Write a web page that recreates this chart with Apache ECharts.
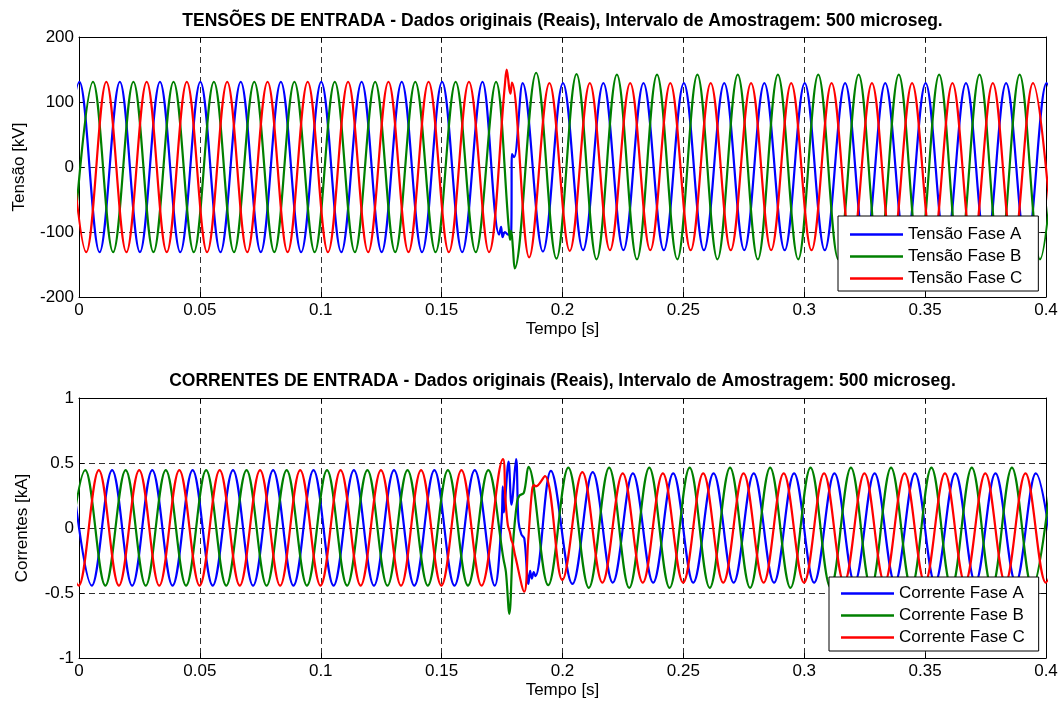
<!DOCTYPE html>
<html>
<head>
<meta charset="utf-8">
<title>Tensões e correntes de entrada</title>
<script src="https://cdn.jsdelivr.net/npm/echarts/dist/echarts.min.js"></script>
<style>
  html, body { margin: 0; padding: 0; background: #ffffff; }
  #chart { width: 1061px; height: 702px; }
</style>
</head>
<body>
<div id="chart"></div>
<script>
// Waveform turning points, [tempo (s), valor]; the curve between them comes from the line smoothing.
// Tensões em kV
const tensaoA = [[-0.0081,-131],[0.0002,131],[0.0085,-131],[0.0169,131],[0.0252,-131],[0.0335,131],[0.0419,-131],[0.0502,131],[0.0585,-131],[0.0669,131],[0.0752,-131],[0.0835,131],[0.0919,-131],[0.1002,131],[0.1085,-131],[0.1169,131],[0.1252,-131],[0.1335,131],[0.1419,-131],[0.1502,131],[0.1585,-131],[0.1669,131],[0.1738,-104],[0.1746,-92],[0.1752,-108],[0.1762,-100],[0.1775,-104],[0.1788,-100],[0.1791,20],[0.1800,15],[0.1835,129],[0.1919,-130],[0.2002,129],[0.2085,-128],[0.2169,129],[0.2252,-128],[0.2335,129],[0.2419,-128],[0.2502,129],[0.2585,-128],[0.2669,129],[0.2752,-128],[0.2835,129],[0.2919,-128],[0.3002,129],[0.3085,-128],[0.3169,129],[0.3252,-128],[0.3335,129],[0.3419,-128],[0.3502,129],[0.3585,-128],[0.3669,129],[0.3752,-128],[0.3835,129],[0.3919,-128],[0.4002,129],[0.4085,-128]];
const tensaoB = [[-0.0025,-131],[0.0058,131],[0.0141,-131],[0.0225,131],[0.0308,-131],[0.0391,131],[0.0475,-131],[0.0558,131],[0.0641,-131],[0.0725,131],[0.0808,-131],[0.0891,131],[0.0975,-131],[0.1058,131],[0.1141,-131],[0.1225,131],[0.1308,-131],[0.1391,131],[0.1475,-131],[0.1558,131],[0.1641,-131],[0.1725,131],[0.1778,-95],[0.1783,-112],[0.1788,-98],[0.1795,-125],[0.1802,-156],[0.1891,145],[0.1975,-141],[0.2058,143],[0.2141,-142],[0.2225,142],[0.2308,-142],[0.2391,142],[0.2475,-142],[0.2558,142],[0.2641,-142],[0.2725,142],[0.2808,-142],[0.2891,142],[0.2975,-142],[0.3058,142],[0.3141,-142],[0.3225,142],[0.3308,-142],[0.3391,142],[0.3475,-142],[0.3558,142],[0.3641,-142],[0.3725,142],[0.3808,-142],[0.3891,142],[0.3975,-142],[0.4058,142]];
const tensaoC = [[-0.0054,131],[0.0030,-131],[0.0113,131],[0.0196,-131],[0.0280,131],[0.0363,-131],[0.0446,131],[0.0530,-131],[0.0613,131],[0.0696,-131],[0.0780,131],[0.0863,-131],[0.0946,131],[0.1030,-131],[0.1113,131],[0.1196,-131],[0.1280,131],[0.1363,-131],[0.1446,131],[0.1530,-131],[0.1613,131],[0.1696,-131],[0.1762,128],[0.1769,150],[0.1775,136],[0.1780,120],[0.1785,113],[0.1791,130],[0.1862,-139],[0.1946,129],[0.2030,-129],[0.2113,129],[0.2196,-128],[0.2280,129],[0.2363,-128],[0.2446,129],[0.2530,-128],[0.2613,129],[0.2696,-128],[0.2780,129],[0.2863,-128],[0.2946,129],[0.3030,-128],[0.3113,129],[0.3196,-128],[0.3280,129],[0.3363,-128],[0.3446,129],[0.3530,-128],[0.3613,129],[0.3696,-128],[0.3780,129],[0.3863,-128],[0.3946,129],[0.4030,-128]];

// Correntes em kA
const correnteA = [[-0.0030,0.445],[0.0053,-0.443],[0.0137,0.445],[0.0220,-0.443],[0.0303,0.445],[0.0387,-0.443],[0.0470,0.445],[0.0553,-0.443],[0.0637,0.445],[0.0720,-0.443],[0.0803,0.445],[0.0887,-0.443],[0.0970,0.445],[0.1053,-0.443],[0.1137,0.445],[0.1220,-0.443],[0.1303,0.445],[0.1387,-0.443],[0.1470,0.445],[0.1553,-0.443],[0.1637,0.445],[0.1720,-0.443],[0.1748,0.05],[0.1753,0.32],[0.1757,0.12],[0.1777,0.51],[0.1789,0.18],[0.1808,0.53],[0.1818,0.05],[0.1830,-0.05],[0.1842,-0.08],[0.1859,-0.43],[0.1866,-0.33],[0.1873,-0.39],[0.1881,-0.34],[0.1888,-0.37],[0.1952,0.44],[0.2041,-0.43],[0.2125,0.43],[0.2208,-0.42],[0.2291,0.42],[0.2375,-0.42],[0.2458,0.42],[0.2541,-0.42],[0.2625,0.42],[0.2708,-0.42],[0.2791,0.42],[0.2875,-0.42],[0.2958,0.42],[0.3041,-0.42],[0.3125,0.42],[0.3208,-0.42],[0.3291,0.42],[0.3375,-0.42],[0.3458,0.42],[0.3541,-0.42],[0.3625,0.42],[0.3708,-0.42],[0.3791,0.42],[0.3875,-0.42],[0.3958,0.42],[0.4041,-0.42]];
const correnteB = [[-0.0057,-0.443],[0.0026,0.445],[0.0109,-0.443],[0.0193,0.445],[0.0276,-0.443],[0.0359,0.445],[0.0443,-0.443],[0.0526,0.445],[0.0609,-0.443],[0.0693,0.445],[0.0776,-0.443],[0.0859,0.445],[0.0943,-0.443],[0.1026,0.445],[0.1109,-0.443],[0.1193,0.445],[0.1276,-0.443],[0.1359,0.445],[0.1443,-0.443],[0.1526,0.445],[0.1609,-0.443],[0.1693,0.445],[0.1756,-0.24],[0.1766,-0.34],[0.1780,-0.66],[0.1795,-0.13],[0.1812,0.20],[0.1822,0.25],[0.1840,0.27],[0.1859,0.47],[0.1941,-0.44],[0.2024,0.465],[0.2109,-0.46],[0.2193,0.465],[0.2276,-0.46],[0.2359,0.465],[0.2443,-0.46],[0.2526,0.465],[0.2609,-0.46],[0.2693,0.465],[0.2776,-0.46],[0.2859,0.465],[0.2943,-0.46],[0.3026,0.465],[0.3109,-0.46],[0.3193,0.465],[0.3276,-0.46],[0.3359,0.465],[0.3443,-0.46],[0.3526,0.465],[0.3609,-0.46],[0.3693,0.465],[0.3776,-0.46],[0.3859,0.465],[0.3943,-0.46],[0.4026,0.465]];
const correnteC = [[-0.0085,0.445],[-0.0001,-0.443],[0.0082,0.445],[0.0165,-0.443],[0.0249,0.445],[0.0332,-0.443],[0.0415,0.445],[0.0499,-0.443],[0.0582,0.445],[0.0665,-0.443],[0.0749,0.445],[0.0832,-0.443],[0.0915,0.445],[0.0999,-0.443],[0.1082,0.445],[0.1165,-0.443],[0.1249,0.445],[0.1332,-0.443],[0.1415,0.445],[0.1499,-0.443],[0.1582,0.445],[0.1665,-0.443],[0.1754,0.53],[0.1764,0.22],[0.1774,0.02],[0.1782,-0.03],[0.1788,-0.09],[0.1794,-0.12],[0.1805,-0.22],[0.1842,-0.49],[0.1858,-0.10],[0.1874,0.29],[0.1882,0.33],[0.1890,0.32],[0.1927,0.40],[0.1999,-0.40],[0.2082,0.43],[0.2165,-0.42],[0.2249,0.42],[0.2332,-0.42],[0.2415,0.42],[0.2499,-0.42],[0.2582,0.42],[0.2665,-0.42],[0.2749,0.42],[0.2832,-0.42],[0.2915,0.42],[0.2999,-0.42],[0.3082,0.42],[0.3165,-0.42],[0.3249,0.42],[0.3332,-0.42],[0.3415,0.42],[0.3499,-0.42],[0.3582,0.42],[0.3665,-0.42],[0.3749,0.42],[0.3832,-0.42],[0.3915,0.42],[0.3999,-0.42],[0.4082,0.42]];

// Axis ranges and labels
const tempoEixo = { min: 0, max: 0.4, step: 0.05 };
const tensaoEixo = { min: -200, max: 200, step: 100 };
const correnteEixo = { min: -1, max: 1, step: 0.5 };

const tituloTensoes = 'TENSÕES DE ENTRADA - Dados originais (Reais), Intervalo de Amostragem: 500 microseg.';
const tituloCorrentes = 'CORRENTES DE ENTRADA - Dados originais (Reais), Intervalo de Amostragem: 500 microseg.';
const nomesTensao = ['Tensão Fase A', 'Tensão Fase B', 'Tensão Fase C'];
const nomesCorrente = ['Corrente Fase A', 'Corrente Fase B', 'Corrente Fase C'];
const cores = ['#0000ff', '#008000', '#ff0000'];

const FONT = '"Liberation Sans", Arial, Helvetica, sans-serif';
const FS = 17;
const PLOT_LEFT = 79, PLOT_W = 967, PLOT_H = 260;
const PLOT_TOPS = [37, 398];

const gridLine = { show: true, lineStyle: { color: '#303030', width: 1, type: [6, 4] } };
const blackLine = { show: true, onZero: false, lineStyle: { color: '#000', width: 1 } };
const inTick = { show: true, inside: true, length: 5, lineStyle: { color: '#000', width: 1 } };
const labelStyle = { color: '#000', fontSize: FS, fontFamily: FONT, showMinLabel: true, showMaxLabel: true };

function xAxes(gridIndex) {
  return [
    {
      type: 'value', gridIndex, position: 'bottom',
      min: tempoEixo.min, max: tempoEixo.max, interval: tempoEixo.step,
      axisLine: blackLine, axisTick: inTick,
      axisLabel: Object.assign({ margin: 5 }, labelStyle),
      splitLine: gridLine,
      name: 'Tempo [s]', nameLocation: 'middle', nameGap: 24,
      nameTextStyle: { color: '#000', fontSize: FS, fontFamily: FONT }
    },
    {
      type: 'value', gridIndex, position: 'top',
      min: tempoEixo.min, max: tempoEixo.max, interval: tempoEixo.step,
      axisLine: blackLine, axisTick: inTick,
      axisLabel: { show: false }, splitLine: { show: false }
    }
  ];
}

function yAxes(gridIndex, eixo, nome, gap) {
  return [
    {
      type: 'value', gridIndex, position: 'left',
      min: eixo.min, max: eixo.max, interval: eixo.step,
      axisLine: blackLine, axisTick: inTick,
      axisLabel: Object.assign({ margin: 5 }, labelStyle),
      splitLine: gridLine,
      name: nome, nameLocation: 'middle', nameGap: gap,
      nameTextStyle: { color: '#000', fontSize: FS, fontFamily: FONT }
    },
    {
      type: 'value', gridIndex, position: 'right',
      min: eixo.min, max: eixo.max, interval: eixo.step,
      axisLine: blackLine, axisTick: inTick,
      axisLabel: { show: false }, splitLine: { show: false }
    }
  ];
}

function fase(nome, dados, cor, axisIndex) {
  return {
    type: 'line', name: nome, data: dados,
    xAxisIndex: axisIndex, yAxisIndex: axisIndex,
    symbol: 'none', showSymbol: false, smooth: 0.363, clip: true,
    lineStyle: { color: cor, width: 2.2 }, itemStyle: { color: cor },
    emphasis: { disabled: true }, animation: false
  };
}

function legenda(nomes, left, top, padding) {
  return {
    data: nomes, orient: 'vertical', left, top, padding,
    icon: 'rect', itemWidth: 53, itemHeight: 2.5, itemGap: 5,
    backgroundColor: '#fff', borderColor: '#000', borderWidth: 1,
    selectedMode: false,
    textStyle: { color: '#000', fontSize: FS, fontFamily: FONT }
  };
}

function titulo(texto, top) {
  return {
    text: texto, left: PLOT_LEFT + PLOT_W / 2, top, textAlign: 'center', padding: 0,
    textStyle: { color: '#000', fontSize: 17.5, fontWeight: 'bold', fontFamily: FONT, lineHeight: 20 }
  };
}

const chart = echarts.init(document.getElementById('chart'), null, { renderer: 'canvas' });
chart.setOption({
  animation: false,
  backgroundColor: '#fff',
  title: [titulo(tituloTensoes, 11), titulo(tituloCorrentes, 371)],
  legend: [
    legenda(nomesTensao, 838, 216, [10, 16, 4, 12]),
    legenda(nomesCorrente, 829, 577, [8, 14, 5, 12])
  ],
  grid: PLOT_TOPS.map(top => ({ left: PLOT_LEFT, top, width: PLOT_W, height: PLOT_H, outerBoundsMode: 'none', containLabel: false })),
  xAxis: [...xAxes(0), ...xAxes(1)],
  yAxis: [...yAxes(0, tensaoEixo, 'Tensão [kV]', 51), ...yAxes(1, correnteEixo, 'Correntes [kA]', 48)],
  series: [
    fase(nomesTensao[0], tensaoA, cores[0], 0),
    fase(nomesTensao[1], tensaoB, cores[1], 0),
    fase(nomesTensao[2], tensaoC, cores[2], 0),
    fase(nomesCorrente[0], correnteA, cores[0], 2),
    fase(nomesCorrente[1], correnteB, cores[1], 2),
    fase(nomesCorrente[2], correnteC, cores[2], 2)
  ]
});
</script>
</body>
</html>
